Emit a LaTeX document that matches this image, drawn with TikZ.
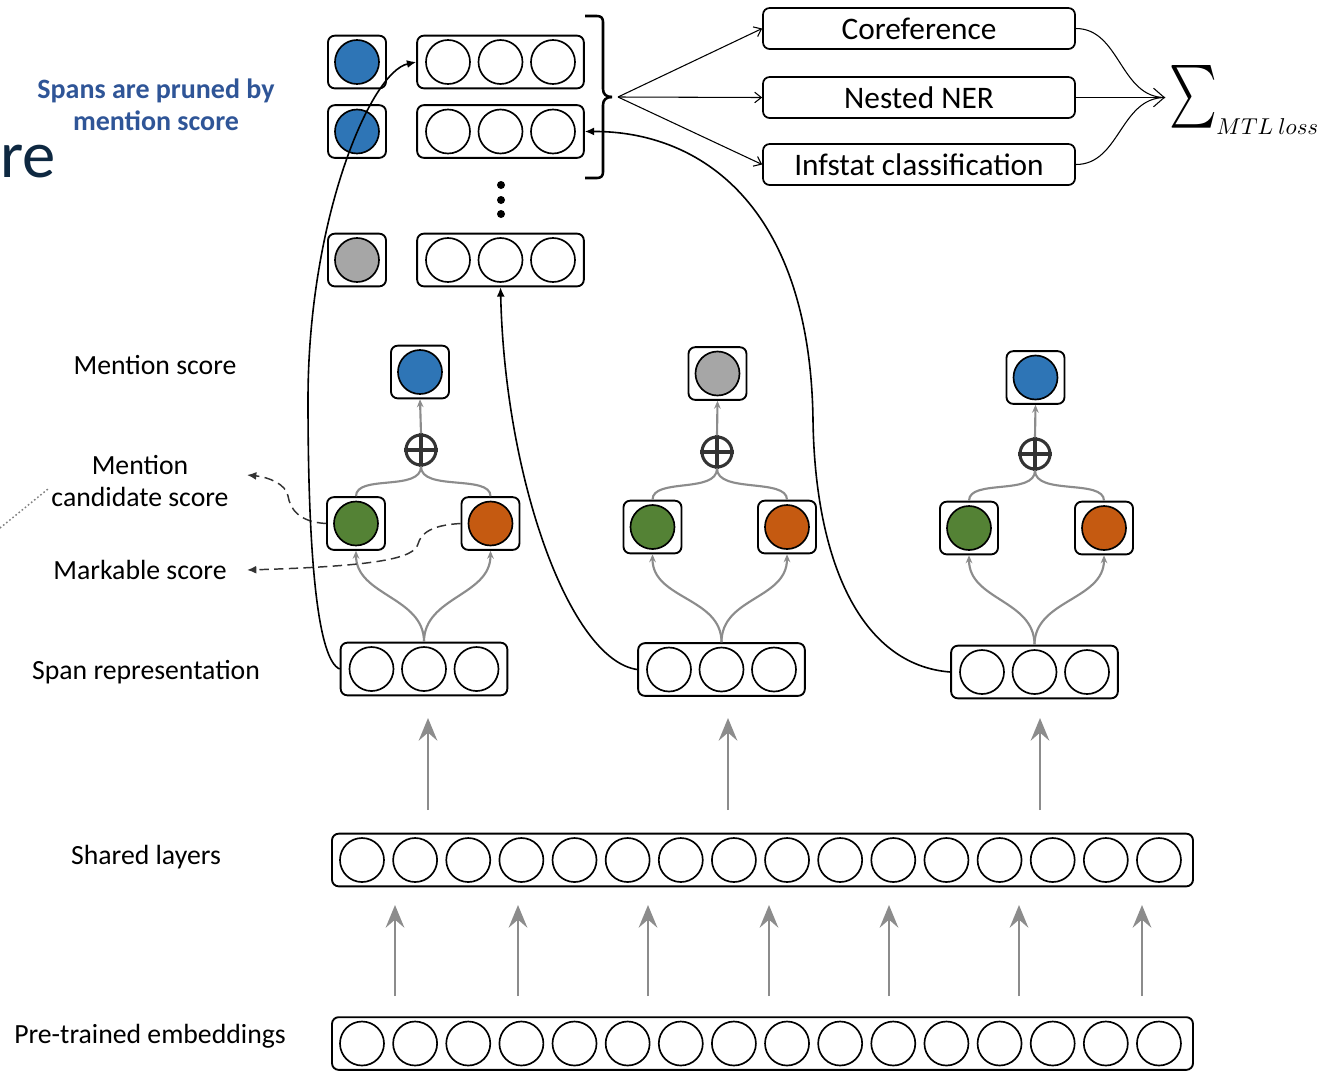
\documentclass[tikz,border=0pt]{standalone}
\usepackage{fontspec}
\setmainfont{Carlito}
\usepackage{graphicx}
\usetikzlibrary{arrows.meta}
\definecolor{cblue}{HTML}{2E75B6}
\definecolor{cgray}{HTML}{A6A6A6}
\definecolor{cgreen}{HTML}{548235}
\definecolor{corange}{HTML}{C55A11}
\definecolor{ctext}{HTML}{2F5597}
\definecolor{cnavy}{HTML}{0E2841}
\definecolor{connc}{HTML}{8C8C8C}
\definecolor{pdark}{HTML}{333333}
\newcommand\vecthree[3]{%
  \node[vbox] (#1) at (#2,#3) {};
  \foreach \kk/\nn in {-1/a,0/b,1/c} {\node[dot] (#1\nn) at ({#2+52.5*\kk},#3) {};}
}
\newcommand\scorebox[4]{%
  \node[sbox] (#1) at (#2,#3) {};
  \node[dot, fill=#4] (#1c) at (#2,#3) {};
}
\newcommand\plusnode[3]{%
  \node[plusc] (#1) at (#2,#3) {};
  \draw[plusline] (#1.north) -- (#1.south) (#1.west) -- (#1.east);
}
\begin{document}
\begin{tikzpicture}[x=0.75pt,y=-0.75pt,
  lbl/.style={font=\fontsize{20.8}{24.5}\selectfont, align=center, inner sep=0},
  task/.style={draw, rounded corners=5pt, line width=1.3pt, minimum width=234pt, minimum height=30.75pt, inner sep=0, font=\fontsize{23.5}{28}\selectfont},
  sbox/.style={draw, rounded corners=5pt, line width=1.4pt, minimum width=43.5pt, minimum height=39.5pt, inner sep=0},
  vbox/.style={draw, rounded corners=5pt, line width=1.4pt, minimum width=125pt, minimum height=39.5pt, inner sep=0},
  bar/.style={draw, rounded corners=5pt, line width=1.4pt, minimum width=645.75pt, minimum height=39.5pt, inner sep=0},
  dot/.style={circle, draw, line width=1.25pt, minimum size=33pt, inner sep=0},
  plusc/.style={circle, draw=pdark, line width=2.3pt, minimum size=22.5pt, inner sep=0},
  plusline/.style={draw=pdark, line width=2.3pt},
  gconn/.style={draw=connc, line width=1.6pt},
  garrow/.style={-{Stealth[length=6pt, width=5pt, inset=2pt]}},
  bigarrow/.style={draw=connc, line width=1.9pt, -{Stealth[length=17pt, width=14pt, inset=6pt]}},
  link/.style={draw=black, line width=1.2pt, -{Latex[length=7pt, width=6pt]}},
  taskarrow/.style={draw=black, line width=0.8pt, -{Straight Barb[length=5pt, width=8pt]}},
  dasharrow/.style={draw=black!80, line width=1.1pt, dash pattern=on 7pt off 4pt, -{Latex[length=7pt, width=6pt]}}
]
\useasboundingbox (0,0) rectangle (1324,1072);

% title fragments
\node[anchor=base west, text=cnavy, font=\fontsize{50}{56}\selectfont, inner sep=0] (re) at (0,177) {re};
\node[text=ctext, font=\bfseries\fontsize{21}{24}\selectfont, align=center, inner sep=0] (pruned) at (156,105) {Spans are pruned by\\mention score};
\draw[gray, line width=1.1pt, dash pattern=on 1.2pt off 1.8pt] (0,528) coordinate (dl1) -- (48,489) coordinate (dl2);

% side labels
\node[lbl] (lms) at (155,365) {Mention score};
\node[lbl] (lmc) at (140,481) {Mention\\candidate score};
\node[lbl] (lmk) at (140,570) {Markable score};
\node[lbl] (lsr) at (146,672) {Span representation};
\node[lbl] (lsh) at (146,857) {Shared layers};
\node[lbl] (lpe) at (150,1036) {Pre-trained embeddings};

% top pruned spans
\scorebox{t1}{357}{62}{cblue}
\vecthree{v1}{500.5}{62}
\scorebox{t2}{357}{131.5}{cblue}
\vecthree{v2}{500.5}{131.5}
\scorebox{t3}{357}{260}{cgray}
\vecthree{v3}{500.5}{260}
\foreach \yy/\nm in {185/d1,200/d2,214/d3} {\node[circle, fill=black, inner sep=0, minimum size=6pt] (\nm) at (501,\yy) {};}

% brace
\coordinate (brt) at (618,97);
\draw[line width=1.9pt] (585,16) -- (597,16) .. controls (601,16) and (603,18) .. (603,22) -- (603,89) .. controls (603,94) and (606,97) .. (612,97);
\draw[line width=1.9pt] (612,97) .. controls (606,97) and (603,100) .. (603,105) -- (603,172) .. controls (603,176) and (601,178) .. (597,178) -- (585,178);

% tasks
\node[task] (c1) at (919,28.5) {Coreference};
\node[task] (c2) at (919,97.5) {Nested NER};
\node[task] (c3) at (919,164.5) {Infstat classification};
\draw[taskarrow] (brt) -- (c1.west);
\draw[taskarrow] (brt) -- (c2.west);
\draw[taskarrow] (brt) -- (c3.west);

% sum
\coordinate (sumin) at (1165,97.5);
\draw[draw=black, line width=0.8pt] (c1.east) .. controls (1120,28.5) and (1120,97.5) .. (sumin);
\draw[draw=black, line width=0.8pt] (c3.east) .. controls (1120,164.5) and (1120,97.5) .. (sumin);
\draw[draw=black, line width=0.8pt, -{Straight Barb[length=8pt, width=14pt]}] (c2.east) -- (sumin);
\node[inner sep=0] (sum) at (1193,97) {\scalebox{3.4}[4.7]{$\sum$}};
\node[anchor=base west, inner sep=0] (mtl) at (1216,134) {\scalebox{1.72}{$MTL\ loss$}};

% column 1
\scorebox{m1}{420}{372}{cblue}
\plusnode{p1}{421}{450}
\scorebox{g1}{356}{523.5}{cgreen}
\scorebox{o1}{490.5}{523.5}{corange}
\vecthree{s1}{424}{669}
% column 2
\scorebox{m2}{717.5}{373.5}{cgray}
\plusnode{p2}{717}{452}
\scorebox{g2}{652.5}{527}{cgreen}
\scorebox{o2}{787}{527}{corange}
\vecthree{s2}{721.5}{669.5}
% column 3
\scorebox{m3}{1035.5}{377.5}{cblue}
\plusnode{p3}{1035}{454}
\scorebox{g3}{969}{528}{cgreen}
\scorebox{o3}{1104}{528}{corange}
\vecthree{s3}{1034.5}{672}

\foreach \i in {1,2,3} {
  \draw[gconn, garrow] (p\i.north) -- (m\i.south);
  \draw[gconn] (g\i.north) .. controls +(0,-22) and +(0,25) .. (p\i.south);
  \draw[gconn] (o\i.north) .. controls +(0,-22) and +(0,25) .. (p\i.south);
  \draw[gconn, garrow] (s\i.north) .. controls +(0,-45) and +(0,45) .. (g\i.south);
  \draw[gconn, garrow] (s\i.north) .. controls +(0,-45) and +(0,45) .. (o\i.south);
}

% dashed label arrows
\coordinate (mcs) at (247,475);
\coordinate (mks) at (247,570);
\draw[dasharrow] (g1.west) .. controls (298,522) and (290,508) .. (288,496) .. controls (286,484) and (268,477) .. (mcs);
\draw[dasharrow] (o1.west) .. controls (432,525) and (421,533) .. (418,544) .. controls (414,558) and (380,566) .. (mks);

% long links
\draw[link] (s1.west) .. controls (318,660) and (308,560) .. (308,400) .. controls (308,220) and (370,72) .. (v1.west);
\draw[link] (s2.west) .. controls (570,660) and (505,480) .. (v3.south);
\draw[link] (s3.west) .. controls (860,665) and (815,560) .. (813,420) .. controls (810,205) and (700,131) .. (v2.east);

% shared layers and embeddings
\node[bar] (sh) at (762.5,860) {};
\node[bar] (pe) at (762.5,1043.5) {};
\foreach \i in {0,...,15} {
  \node[dot] (sh\i) at ({362+53.13*\i},860) {};
  \node[dot] (pe\i) at ({362+53.13*\i},1043.5) {};
}

% big arrows shared -> span
\foreach \xx/\nm in {428/a1,728/a2,1040/a3} {
  \coordinate (\nm s) at (\xx,810);
  \coordinate (\nm e) at (\xx,718);
  \draw[bigarrow] (\nm s) -- (\nm e);
}
% embeddings -> shared
\foreach \xx/\nm in {395/b1,518/b2,648/b3,769/b4,889/b5,1019/b6,1142/b7} {
  \coordinate (\nm s) at (\xx,996);
  \coordinate (\nm e) at (\xx,905);
  \draw[bigarrow] (\nm s) -- (\nm e);
}
\end{tikzpicture}
\end{document}
